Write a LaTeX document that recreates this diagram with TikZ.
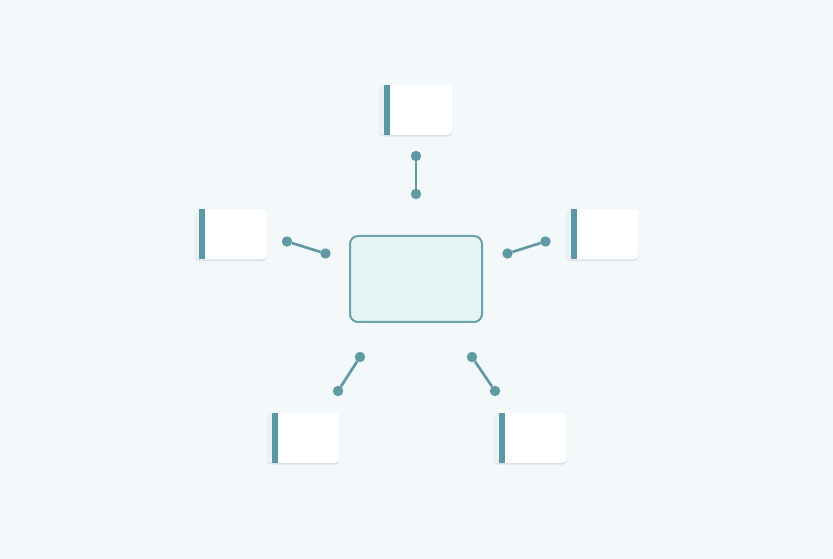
\documentclass[tikz,border=0pt]{standalone}
\usetikzlibrary{shadows}
\definecolor{bg}{HTML}{F3F8FA}
\definecolor{teal}{HTML}{5E99A4}
\definecolor{barc}{HTML}{5B98A5}
\definecolor{hubfill}{HTML}{E6F3F5}
\definecolor{hubline}{HTML}{6AA1AB}
\definecolor{strip}{HTML}{E9F2F4}
\tikzset{
  card/.style={rectangle, fill=white, rounded corners=3.5pt, minimum width=54.75pt, minimum height=37.5pt, inner sep=0pt, outer sep=0pt,
    drop shadow={shadow xshift=0pt, shadow yshift=-1.5pt, opacity=0.05, fill=black},
    drop shadow={shadow xshift=0pt, shadow yshift=-0.8pt, opacity=0.05, fill=black}},
  hub/.style={rectangle, fill=hubfill, draw=hubline, line width=1.5pt, rounded corners=6pt, minimum width=99pt, minimum height=64.5pt, inner sep=0pt},
  dot/.style={circle, fill=teal, minimum size=7.8pt, inner sep=0pt, outer sep=0pt},
  link/.style={teal, line width=2pt},
}
\newcommand{\cardbar}[1]{%
  \begin{scope}
    \clip[rounded corners=3.5pt] (#1.south west) rectangle (#1.north east);
    \fill[strip] (#1.south west) rectangle ([xshift=4pt]#1.north west);
  \end{scope}
  \fill[barc] ([xshift=4pt]#1.south west) rectangle ([xshift=8.5pt]#1.north west);
}
\begin{document}
\begin{tikzpicture}[x=0.75pt,y=-0.75pt]
\path[fill=bg] (0,0) rectangle (833,559);
\node[hub] (hub) at (416,279) {};
\node[card] (ct) at (415.5,110) {};
\node[card] (cl) at (230.5,234.5) {};
\node[card] (cr) at (602,234.5) {};
\node[card] (cbl) at (303,438) {};
\node[card] (cbr) at (530,438) {};
\cardbar{ct}\cardbar{cl}\cardbar{cr}\cardbar{cbl}\cardbar{cbr}
\node[dot] (t1) at (416,156) {};
\node[dot] (t2) at (416,194) {};
\node[dot] (l1) at (287,241.5) {};
\node[dot] (l2) at (325.5,253.5) {};
\node[dot] (r1) at (507.5,253.5) {};
\node[dot] (r2) at (545.5,241.5) {};
\node[dot] (bl1) at (360,357) {};
\node[dot] (bl2) at (338,391) {};
\node[dot] (br1) at (472,357) {};
\node[dot] (br2) at (495,391) {};
\draw[link] (t1) -- (t2);
\draw[link] (l1) -- (l2);
\draw[link] (r1) -- (r2);
\draw[link] (bl1) -- (bl2);
\draw[link] (br1) -- (br2);
\end{tikzpicture}
\end{document}
